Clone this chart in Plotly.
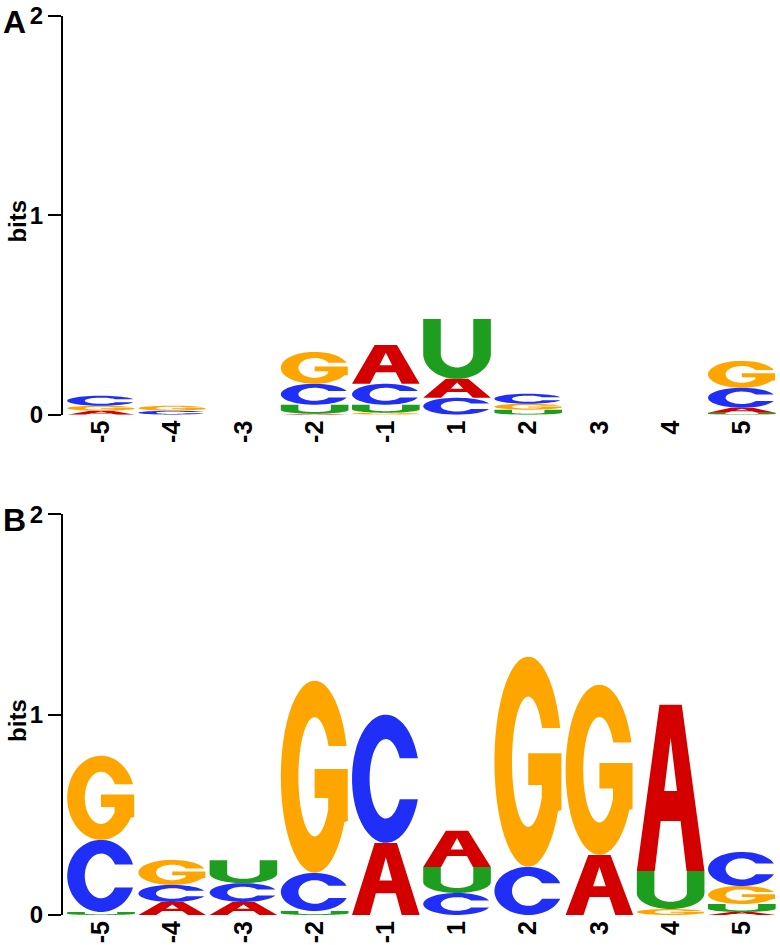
import numpy as np
import plotly.graph_objects as go

positions = ["-5", "-4", "-3", "-2", "-1", "1", "2", "3", "4", "5"]

# Panel A information content (bits) per nucleotide
A_a = [0.02, 0.0, 0.0, 0.005, 0.195, 0.095, 0.0, 0.0, 0.0, 0.025]
C_a = [0.05, 0.02, 0.0, 0.105, 0.105, 0.085, 0.05, 0.0, 0.0, 0.10]
G_a = [0.025, 0.025, 0.0, 0.16, 0.01, 0.0, 0.03, 0.0, 0.0, 0.135]
U_a = [0.0, 0.0, 0.0, 0.045, 0.04, 0.30, 0.025, 0.0, 0.0, 0.01]

# Panel B information content (bits) per nucleotide
A_b = [0.0, 0.065, 0.065, 0.0, 0.36, 0.18, 0.0, 0.30, 0.83, 0.015]
C_b = [0.36, 0.085, 0.094, 0.19, 0.64, 0.11, 0.24, 0.0, 0.0, 0.17]
G_b = [0.42, 0.125, 0.0, 0.96, 0.0, 0.0, 1.05, 0.85, 0.03, 0.09]
U_b = [0.015, 0.0, 0.114, 0.02, 0.0, 0.13, 0.0, 0.0, 0.19, 0.04]

colors = {"A": "#d40000", "C": "#1f2ff8", "G": "#ffa500", "U": "#1e9e1e"}

TX, TY = 0.26, 0.19


def ell(cx, cy, rx, ry, t0, t1, n=48):
    t = np.radians(np.linspace(t0, t1, n))
    return list(zip(cx + rx * np.cos(t), cy + ry * np.sin(t)))


def glyph(letter):
    rxi, ryi = 0.5 - TX, 0.5 - TY
    if letter == "C":
        yt = 0.66
        ao = np.degrees(np.arcsin((yt - 0.5) / 0.5))
        ai = np.degrees(np.arcsin((yt - 0.5) / ryi))
        ring = ell(.5, .5, .5, .5, ao, 360 - ao) + ell(.5, .5, rxi, ryi, 360 - ai, ai)
        return [ring]
    if letter == "G":
        yt = 0.66
        ao = np.degrees(np.arcsin((yt - 0.5) / 0.5))
        ai = np.degrees(np.arcsin((yt - 0.5) / ryi))
        xs = 0.70
        th = -np.degrees(np.arccos((xs - 0.5) / rxi))
        ys = 0.5 + ryi * np.sin(np.radians(th))
        ring = ell(.5, .5, .5, .5, ao, 332)
        ring += [(0.99, 0.27), (0.99, 0.54), (0.50, 0.54), (0.50, 0.39), (xs, 0.39), (xs, ys)]
        ring += ell(.5, .5, rxi, ryi, 360 + th, ai)
        return [ring]
    if letter == "U":
        cy, ry = 0.42, 0.42
        ring = [(0, 1), (0, cy)] + ell(.5, cy, .5, ry, 180, 360) + [(1, cy), (1, 1), (1 - TX, 1), (1 - TX, cy)]
        ring += ell(.5, cy, .5 - TX, ry - TY, 360, 180) + [(TX, cy), (TX, 1)]
        return [ring]
    if letter == "A":
        outer = [(0, 0), (0.335, 1), (0.665, 1), (1, 0), (0.735, 0), (0.647, 0.3), (0.353, 0.3), (0.265, 0)]
        hole = [(0.406, 0.48), (0.5, 0.8), (0.594, 0.48)]
        return [outer, hole]


W = 0.95


def letter_path(letter, xc, y0, h):
    parts = []
    for ring in glyph(letter):
        pts = [(xc - W / 2 + u * W, y0 + v * h) for u, v in ring]
        s = "M " + " L ".join(f"{x:.4f},{y:.5f}" for x, y in pts) + " Z"
        parts.append(s)
    return " ".join(parts)


panels = [
    ("x", "y", {"A": A_a, "C": C_a, "G": G_a, "U": U_a}),
    ("x2", "y2", {"A": A_b, "C": C_b, "G": G_b, "U": U_b}),
]

shapes = []
for xr, yr, data in panels:
    for i in range(len(positions)):
        stack = sorted([(data[k][i], k) for k in "ACGU" if data[k][i] > 0])
        y0 = 0.0
        for h, k in stack:
            shapes.append(dict(type="path", xref=xr, yref=yr, path=letter_path(k, i, y0, h),
                               fillcolor=colors[k], line=dict(width=0), fillrule="evenodd", layer="above"))
            y0 += h

fig = go.Figure()
for xr, yr in [("x", "y"), ("x2", "y2")]:
    fig.add_trace(go.Scatter(x=[0, 9], y=[0, 0], xaxis=xr, yaxis=yr, mode="markers",
                             marker=dict(opacity=0), hoverinfo="skip", showlegend=False))

FONT = "Liberation Sans, Arial, Helvetica, sans-serif"
xtickfont = dict(family=FONT, size=25, color="black", weight="bold")
ytickfont = dict(family=FONT, size=24, color="black", weight="bold")

xax = dict(range=[-0.534, 9.508], tickmode="array", tickvals=list(range(10)), ticktext=positions,
           tickangle=-90, tickfont=xtickfont, showline=False, ticks="", showgrid=False, zeroline=False)
yax = dict(range=[0, 2], tickvals=[0, 1, 2], ticktext=["0", "1", "2"], tickfont=ytickfont,
           showline=True, linecolor="black", linewidth=2, ticks="outside", ticklen=13, tickwidth=2,
           tickcolor="black", showgrid=False, zeroline=False)

fig.update_layout(
    width=780, height=945,
    margin=dict(l=63, r=2, t=13, b=30),
    plot_bgcolor="white", paper_bgcolor="white",
    showlegend=False,
    shapes=shapes,
    xaxis=dict(xax, domain=[0, 1], anchor="y"),
    yaxis=dict(yax, domain=[0.5565, 1.0], anchor="x"),
    xaxis2=dict(xax, domain=[0, 1], anchor="y2"),
    yaxis2=dict(yax, domain=[0.0, 0.4457], anchor="x2"),
)

annots = []
for lab, yr in [("A", "y"), ("B", "y2")]:
    annots.append(dict(text=lab, xref="paper", yref=yr, x=-0.0685, y=1.97, xanchor="center", yanchor="middle",
                       showarrow=False, font=dict(family=FONT, size=32, color="black", weight="bold")))
    annots.append(dict(text="bits", xref="paper", yref=yr, x=-0.064, y=0.97, xanchor="center", yanchor="middle",
                       textangle=-90, showarrow=False,
                       font=dict(family=FONT, size=24, color="black", weight="bold")))
fig.update_layout(annotations=annots)

fig.write_html("out.html", config={"displayModeBar": False},
               post_script="document.body.style.margin='0';document.body.style.overflow='hidden';")
